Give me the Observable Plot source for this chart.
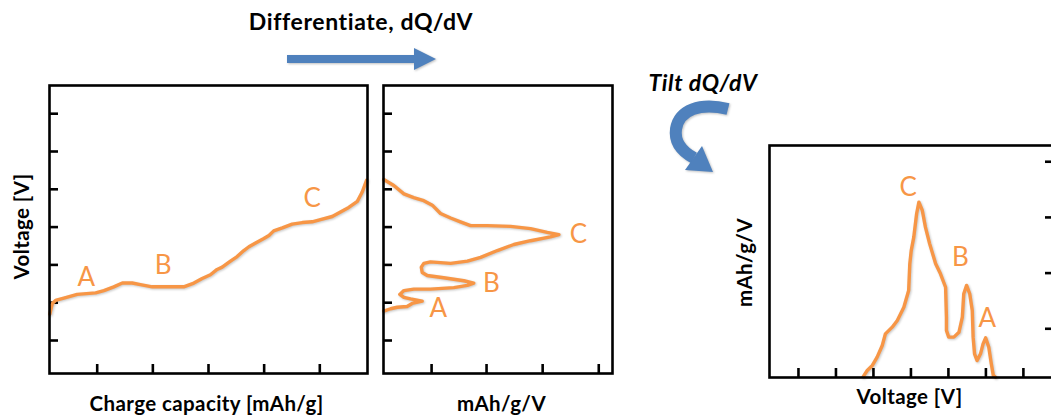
<!DOCTYPE html>
<html><head><meta charset="utf-8">
<script src="https://cdn.jsdelivr.net/npm/d3@7"></script>
<script src="https://cdn.jsdelivr.net/npm/@observablehq/plot@0.6"></script>
<style>
html,body{margin:0;padding:0;background:#fff;}
#wrap{position:relative;width:1051px;height:418px;overflow:hidden;font-family:Lato,"Open Sans",sans-serif;}
#wrap > svg{position:absolute;top:0;max-width:none;}
</style></head><body><div id="wrap"></div>
<script>
// ---- Panel 1: charge capacity vs voltage ----
const chargeCapacity = [0.1,0.9,1.9,4.5,8.7,14.5,17.1,20.2,22.9,26.0,28.6,32.3,37.0,42.2,45.4,48.0,50.6,52.7,54.3,56.9,59.0,61.1,62.7,64.8,67.4,69.0,70.5,73.2,76.3,79.5,82.6,85.2,88.9,91.5,94.1,96.8,98.3,99.7];
const chargeVoltage  = [1.85,1.99,2.03,2.06,2.11,2.13,2.16,2.21,2.26,2.26,2.24,2.21,2.21,2.21,2.26,2.32,2.37,2.44,2.47,2.55,2.61,2.69,2.74,2.79,2.85,2.89,2.95,2.99,3.04,3.06,3.07,3.10,3.14,3.20,3.26,3.34,3.46,3.62];
// ---- Panel 2: dQ/dV (x) vs voltage (y) ----
const dqdvValue   = [0.1,4.5,8.9,13.2,17.6,21.3,24.9,29.3,33.6,38.0,45.3,55.5,64.2,71.5,76.6,72.9,64.2,56.9,49.7,42.4,36.6,29.3,20.5,17.6,16.5,16.9,19.1,26.3,35.1,39.4,36.6,30.7,20.5,13.2,8.9,7.1,8.9,11.8,16.9,12.5,10.3,6.0,3.1,0.1];
const dqdvVoltage = [3.63,3.55,3.44,3.39,3.35,3.29,3.18,3.12,3.07,3.02,3.02,3.01,2.98,2.93,2.90,2.87,2.82,2.77,2.69,2.60,2.55,2.52,2.54,2.52,2.47,2.40,2.36,2.33,2.29,2.26,2.23,2.20,2.18,2.18,2.16,2.11,2.07,2.05,2.02,1.99,1.95,1.94,1.92,1.89];
// ---- Panel 3: tilted dQ/dV ----
const tiltVoltage = [33.0,34.4,36.2,37.9,39.7,40.8,43.2,45.0,47.3,49.0,49.4,49.9,50.8,51.8,52.6,53.8,54.9,56.4,58.5,60.2,62.0,62.3,62.3,63.1,64.9,66.7,67.9,68.4,69.4,70.5,71.4,71.7,72.2,73.1,74.3,75.2,76.1,77.2,78.1,78.8,79.6];
const tiltValue   = [0.4,3.0,5.2,8.8,13.8,18.8,21.7,24.6,30.3,37.5,49.0,54.7,60.5,70.6,75.6,72.0,64.8,57.6,49.0,44.7,38.9,26.0,20.3,17.4,17.4,19.5,26.0,36.1,39.7,36.1,28.9,17.4,10.2,7.3,10.2,14.5,17.1,13.1,5.9,0.9,0.1];
// ---- Peak labels ----
const peakNames = ["A","B","C"];
const p1PeakX = [11.6,35.8,82.7], p1PeakY = [2.33,2.49,3.38];
const p2PeakX = [24.0,47.2,85.2], p2PeakY = [1.92,2.25,2.90];
const p3PeakX = [76.8,67.3,48.9], p3PeakY = [25.4,51.7,81.9];
// ---- Ticks ----
const voltageTicks  = [1.5,2,2.5,3,3.5,4,4.5];
const capacityTicks = [15,32.5,50,67.5,85];
const dqdvTicks     = [21,45,69.5,94];
const tiltXTicks    = [10.2,23.4,36.6,49.8,63.0,76.2,89.4];
const tiltYTicks    = [21,45,69,93];
// ---- Texts ----
const title1 = "Differentiate, dQ/dV";
const title2 = "Tilt dQ/dV";

const orange = "#F79646", blue = "#4F81BD";
const font = "Lato, 'Open Sans', sans-serif";
const zip = (a, b) => a.map((v, i) => ({x: v, y: b[i]}));
const labelRows = (xs, ys) => peakNames.map((n, i) => ({n, x: xs[i], y: ys[i]}));
const noText = () => "";
const axisCommon = {tickSize: -9, tickFormat: noText, strokeWidth: 2.6, label: null};
const baseStyle = {background: "transparent", fontFamily: font, overflow: "visible"};
const voltDomain = [1.0635, 4.873];
const axisLabel = {fontSize: 20.5, fontWeight: "bold", fill: "black", textAnchor: "middle", lineAnchor: "middle"};
const peakStyle = {fill: orange, fontSize: 26, fontFamily: font};

const wrap = document.getElementById("wrap");

function place(svg, left) {
  svg.style.left = left + "px";
  wrap.appendChild(svg);
  d3.select(svg).selectAll("g[aria-label='line'] path")
    .style("filter", "drop-shadow(1px 1.5px 1px rgba(0,0,0,0.22))");
  d3.select(svg).selectAll("g[aria-label='text'] text").style("letter-spacing", "0.4px");
}

// Panel 1
place(Plot.plot({
  width: 380, height: 418, marginLeft: 49, marginRight: 13, marginTop: 85, marginBottom: 45,
  x: {domain: [0, 100]}, y: {domain: voltDomain},
  style: baseStyle,
  marks: [
    Plot.axisX({anchor: "bottom", ticks: capacityTicks, ...axisCommon}),
    Plot.axisY({anchor: "left", ticks: voltageTicks, ...axisCommon}),
    Plot.line(zip(chargeCapacity, chargeVoltage), {x: "x", y: "y", stroke: orange, strokeWidth: 3.4}),
    Plot.text(labelRows(p1PeakX, p1PeakY), {x: "x", y: "y", text: "n", ...peakStyle}),
    Plot.text(["Charge capacity [mAh/g]"], {text: d => d, frameAnchor: "bottom", dx: -2, dy: 31, ...axisLabel}),
    Plot.text(["Voltage [V]"], {text: d => d, frameAnchor: "left", dx: -27, dy: -3, rotate: -90, ...axisLabel}),
    Plot.frame({stroke: "black", strokeWidth: 2.6})
  ]
}), 0);

// Panel 2
place(Plot.plot({
  width: 250, height: 418, marginLeft: 13, marginRight: 8, marginTop: 85, marginBottom: 45,
  x: {domain: [0, 100]}, y: {domain: voltDomain},
  style: baseStyle,
  marks: [
    Plot.axisX({anchor: "bottom", ticks: dqdvTicks, ...axisCommon}),
    Plot.axisY({anchor: "left", ticks: voltageTicks, ...axisCommon}),
    Plot.line(zip(dqdvValue, dqdvVoltage), {x: "x", y: "y", stroke: orange, strokeWidth: 3.4}),
    Plot.text(labelRows(p2PeakX, p2PeakY), {x: "x", y: "y", text: "n", ...peakStyle}),
    Plot.text(["mAh/g/V"], {text: d => d, frameAnchor: "bottom", dx: 3.5, dy: 31, ...axisLabel}),
    Plot.frame({stroke: "black", strokeWidth: 2.6})
  ]
}), 370);

// Panel 3
place(Plot.plot({
  width: 360, height: 418, marginLeft: 69, marginRight: 7, marginTop: 145, marginBottom: 41,
  x: {domain: [0, 100]}, y: {domain: [0, 100]},
  style: baseStyle,
  marks: [
    Plot.axisX({anchor: "bottom", ticks: tiltXTicks, ...axisCommon}),
    Plot.axisY({anchor: "right", ticks: tiltYTicks, ...axisCommon}),
    Plot.line(zip(tiltVoltage, tiltValue), {x: "x", y: "y", stroke: orange, strokeWidth: 3.4}),
    Plot.text(labelRows(p3PeakX, p3PeakY), {x: "x", y: "y", text: "n", ...peakStyle}),
    Plot.text(["Voltage [V]"], {text: d => d, frameAnchor: "bottom", dx: -2, dy: 20, ...axisLabel}),
    Plot.text(["mAh/g/V"], {text: d => d, frameAnchor: "left", dx: -24, dy: 1, rotate: -90, ...axisLabel}),
    Plot.frame({stroke: "black", strokeWidth: 2.6})
  ]
}), 700);

// Annotation overlay: titles and arrows
const ov = d3.select(wrap).append("svg")
  .attr("width", 1051).attr("height", 418)
  .style("left", "0px").style("pointer-events", "none")
  .style("font-family", font);
const shadow = "drop-shadow(1px 1.5px 1px rgba(0,0,0,0.25))";
ov.append("text").attr("x", 361).attr("y", 30).attr("text-anchor", "middle")
  .attr("font-size", 23).attr("font-weight", "bold").style("letter-spacing", "0.6px").text(title1);
ov.append("text").attr("x", 703).attr("y", 91).attr("text-anchor", "middle")
  .attr("font-size", 23).attr("font-weight", "bold").attr("font-style", "italic").style("letter-spacing", "0.6px").text(title2);
ov.append("polygon")
  .attr("points", "287,55 414,55 414,48 436,59 414,70 414,63 287,63")
  .attr("fill", blue).style("filter", shadow);
const curved = ov.append("g").style("filter", shadow);
curved.append("path")
  .attr("d", "M728,109 C700,102 679,110 676,129 C674,143 683,152 694,158")
  .attr("fill", "none").attr("stroke", blue).attr("stroke-width", 12);
curved.append("polygon").attr("points", "702,146 685,170 713,172").attr("fill", blue);
</script></body></html>
